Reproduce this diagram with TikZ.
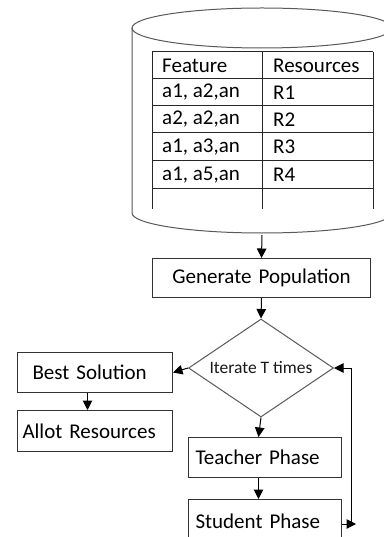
\documentclass[tikz,border=0pt]{standalone}
\usepackage{fontspec}
\setmainfont{Carlito}
\usetikzlibrary{shapes.geometric,arrows.meta}
\begin{document}
\begin{tikzpicture}[x=1pt,y=-1pt,
  every node/.style={font=\fontsize{21}{24}\selectfont},
  box/.style={draw=black!80, line width=1pt, anchor=north west, align=left, inner ysep=0pt},
  dec/.style={draw=black!65, line width=1pt, diamond, aspect=1.48, minimum width=145pt, minimum height=98pt, inner sep=0pt, font=\fontsize{17.5}{20}\selectfont, text=black!90},
  arr/.style={line width=1pt, -{Triangle[length=9.5pt,width=9.5pt]}},
  tline/.style={line width=1pt, black!85},
  cell/.style={anchor=west, inner sep=0pt}]
\useasboundingbox[fill=white] (0,0) rectangle (383,537);
% database cylinder
\draw[line width=1pt, black!65] (262,28) ellipse [x radius=130pt, y radius=20pt];
\draw[line width=1pt, black!65] (132,28) -- (132,213) arc[start angle=180, end angle=360, x radius=130pt, y radius=20pt] -- (392,28);
% table
\draw[tline] (152,52) -- (373,52) (152,79) -- (373,79) (152,106) -- (373,106)
  (152,133) -- (373,133) (152,161) -- (373,161) (152,189) -- (373,189);
\draw[tline] (152,52) -- (152,209) (262,52) -- (262,209) (373,52) -- (373,209);
\node[cell] (h1) at (162,65.5) {Feature};
\node[cell] (h2) at (273,65.5) {Resources};
\node[cell] (a1) at (162,92.5) {a1, a2,an};
\node[cell] (r1) at (273,92.5) {R1};
\node[cell] (a2) at (162,119.5) {a2, a2,an};
\node[cell] (r2) at (273,119.5) {R2};
\node[cell] (a3) at (162,147) {a1, a3,an};
\node[cell] (r3) at (273,147) {R3};
\node[cell] (a4) at (162,175) {a1, a5,an};
\node[cell] (r4) at (273,175) {R4};
\coordinate (dbbot) at (262,235);
% flow
\node[box, align=center, text width=218pt, inner xsep=0pt, minimum height=39pt] (gp) at (152,258) {Generate Population};
\node[dec] (it) at (261,368) {Iterate T times};
\node[box, text width=125pt, inner xsep=15pt, minimum height=40pt] (best) at (17,352) {Best Solution};
\node[box, text width=145pt, inner xsep=5pt, minimum height=41pt] (allot) at (17,410) {Allot Resources};
\node[box, text width=139pt, inner xsep=7pt, minimum height=40pt] (teach) at (188,437) {Teacher Phase};
\node[box, text width=139pt, inner xsep=7pt, minimum height=43pt] (stud) at (188,499) {Student Phase};
\coordinate (fb) at (351,524);
\coordinate (fbtip) at (356,524);
\draw[arr] (dbbot) -- (gp.north);
\draw[arr] (gp.south) -- (it.north);
\draw[arr] (it.west) -- (best.east);
\draw[arr] ([xshift=-7.5pt]best.south) -- ([xshift=-7.5pt]allot.north);
\draw[arr] (it.south) -- ([xshift=-6.5pt]teach.north);
\draw[arr] ([xshift=-6.5pt]teach.south) -- ([xshift=-6.5pt]stud.north);
\draw[arr] (fb) |- (it.east);
\draw[arr] (stud.east |- fb) -- (fbtip);
\end{tikzpicture}
\end{document}
